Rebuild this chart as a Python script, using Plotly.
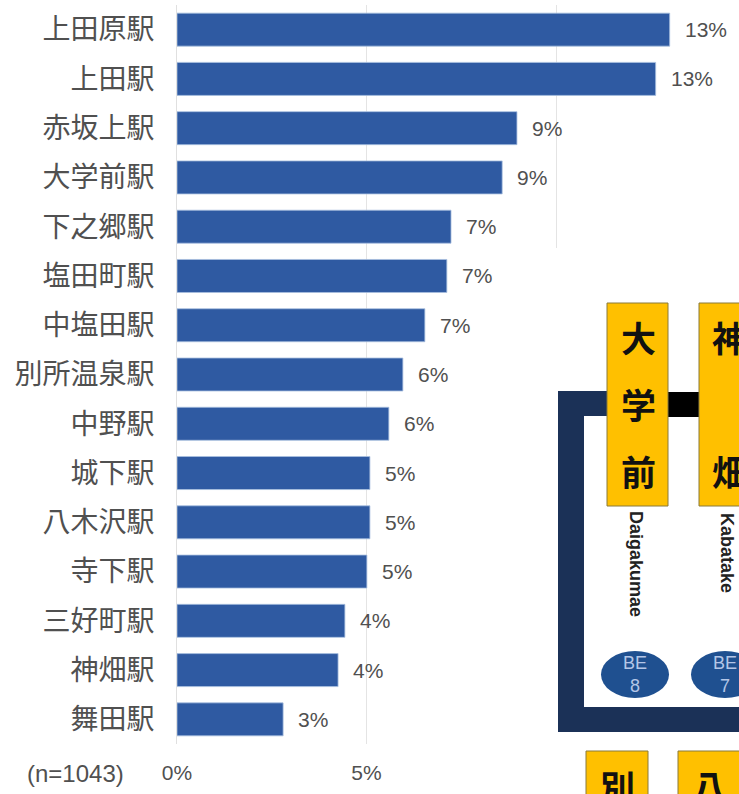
import plotly.graph_objects as go

stations = ["上田原駅", "上田駅", "赤坂上駅", "大学前駅", "下之郷駅", "塩田町駅", "中塩田駅", "別所温泉駅",
            "中野駅", "城下駅", "八木沢駅", "寺下駅", "三好町駅", "神畑駅", "舞田駅"]
values = [13.0, 12.63, 8.97, 8.58, 7.23, 7.12, 6.54, 5.96, 5.59, 5.09, 5.09, 5.01, 4.43, 4.25, 2.8]
labels = ["13%", "13%", "9%", "9%", "7%", "7%", "7%", "6%", "6%", "5%", "5%", "5%", "4%", "4%", "3%"]
tick_vals = [0, 5, 10]
tick_text = ["0%", "5%", ""]
note = "(n=1043)"

W, H = 739, 794
L, R, T, B = 177, 0, 5, 50
TXT = "#505050"
NARROW = "Liberation Sans"
CJK = "Noto Sans CJK JP"
YEL, NAVY, BLUE = "#FFC000", "#1B3157", "#1F5090"

def px(x):
    return (x - L) / (W - L - R)

def py(y):
    return 1 - (y - T) / (H - T - B)

fig = go.Figure(go.Bar(y=stations, x=values, orientation="h", width=0.67,
                       marker=dict(color="#2F5AA2", line=dict(color="#A9C0E0", width=0.8))))

shapes = []
def rect(x0, y0, x1, y1, fill, line=None, kind="rect"):
    shapes.append(dict(type=kind, xref="paper", yref="paper", x0=px(x0), x1=px(x1), y0=py(y0), y1=py(y1),
                       fillcolor=fill, line=dict(color=line or fill, width=1 if line else 0), layer="above"))

rect(530, 248, 760, 800, "white")
rect(558, 391, 607, 416, NAVY)
rect(558, 391, 584, 732, NAVY)
rect(558, 707, 760, 732, NAVY)
rect(668, 392, 700, 417, "#000000")
rect(607, 303, 668, 506, YEL, "#8a7a3a")
rect(699, 303, 770, 506, YEL, "#8a7a3a")
rect(586, 751, 648, 800, YEL, "#8a7a3a")
rect(678, 751, 740, 800, YEL, "#8a7a3a")
rect(601, 651, 669, 698, BLUE, kind="circle")
rect(691, 651, 759, 698, BLUE, kind="circle")

ann = []
def text(x, y, s, size, color="#111111", font=CJK, **kw):
    ann.append(dict(xref="paper", yref="paper", x=px(x), y=py(y), text=s, showarrow=False,
                    xanchor="center", yanchor="middle",
                    font=dict(size=size, color=color, family=font), **kw))

for cat, v, lab in zip(stations, values, labels):
    ann.append(dict(xref="x", yref="y", x=v, y=cat, text=lab, showarrow=False, xanchor="left", xshift=13,
                    font=dict(size=21, color=TXT, family=NARROW)))

text(75, 773, note, 24, TXT, NARROW)
for s, y in zip("大学前", (336, 403, 470)):
    text(638, y, f"<b>{s}</b>", 35)
text(729, 336, "<b>神</b>", 35)
text(729, 470, "<b>畑</b>", 35)
text(617, 785, "<b>別</b>", 35)
text(709, 785, "<b>八</b>", 35)
text(636, 564, "<b>Daigakumae</b>", 18, "#222222", "Liberation Sans", textangle=90)
text(727, 553, "<b>Kabatake</b>", 18, "#222222", "Liberation Sans", textangle=90)
text(635, 674, "BE<br>8", 18, "#B4C6E7", "Liberation Sans")
text(725, 674, "BE<br>7", 18, "#B4C6E7", "Liberation Sans")

fig.update_layout(
    width=W, height=H, autosize=False, margin=dict(l=L, r=R, t=T, b=B),
    paper_bgcolor="white", plot_bgcolor="white", showlegend=False,
    shapes=shapes, annotations=ann,
    xaxis=dict(range=[0, (W - L - R) / 37.9], tickvals=tick_vals, ticktext=tick_text, showgrid=True,
               gridcolor="#e4e4e4", gridwidth=1, zeroline=False, showline=False, ticks="",
               tickfont=dict(size=21, color=TXT, family=NARROW), ticklabelstandoff=14),
    yaxis=dict(autorange="reversed", showgrid=False, zeroline=True, showline=True, linecolor="#e0e0e0", ticks="",
               tickfont=dict(size=28, color=TXT, family=CJK), ticklabelstandoff=16),
)
fig.write_html("out.html", config={"displayModeBar": False},
               post_script="document.body.style.margin='0';document.body.style.overflow='hidden';")
